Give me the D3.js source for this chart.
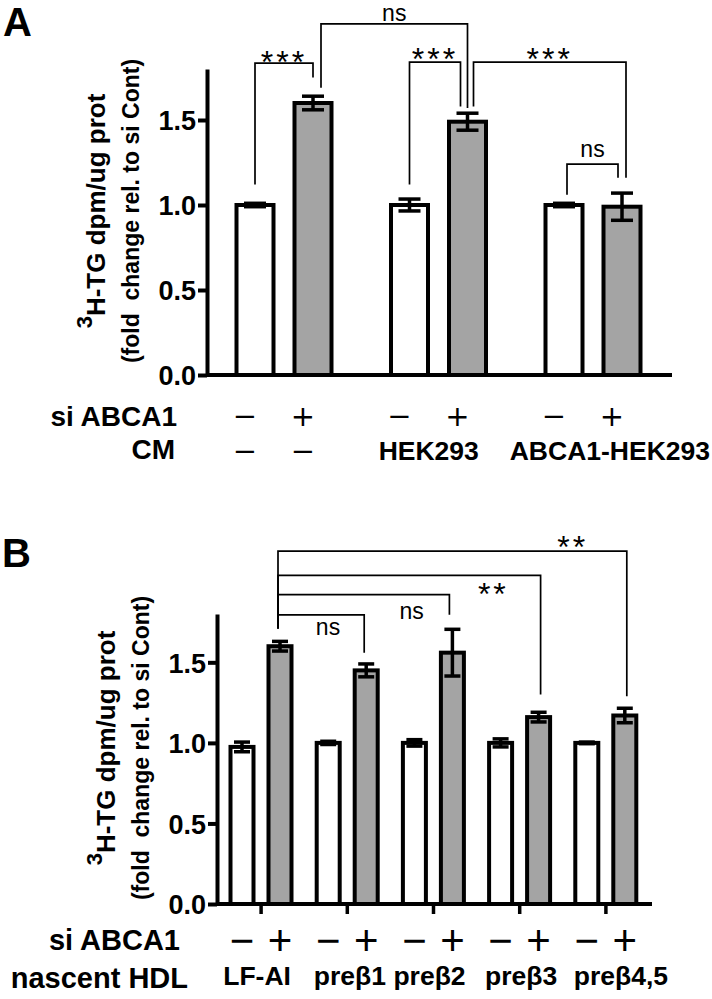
<!DOCTYPE html>
<html>
<head>
<meta charset="utf-8">
<script src="https://cdn.jsdelivr.net/npm/d3@7"></script>
<style>
  body { margin: 0; background: #fff; }
  svg text { font-family: "Liberation Sans", Arial, Helvetica, sans-serif; }
</style>
</head>
<body>
<script>
// ---- data ----
var signs = ['\u2212', '+'];

// panel A : conditioned medium
var groupsA = ['none', 'HEK293', 'ABCA1-HEK293'];
var cmRowA = [['\u2212', '\u2212'], 'HEK293', 'ABCA1-HEK293'];
var meanA = [[1.00, 1.60], [1.00, 1.49], [1.00, 0.99]];
var semA = [[0.01, 0.04], [0.035, 0.05], [0.01, 0.08]];
// bars are [group, sign]
var sigA = [
  {a: [0, 0], b: [0, 1], label: '***'},
  {a: [0, 1], b: [1, 1], label: 'ns'},
  {a: [1, 0], b: [1, 1], label: '***'},
  {a: [1, 1], b: [2, 1], label: '***'},
  {a: [2, 0], b: [2, 1], label: 'ns'}
];
// bracket heights (data units)
var sigTopA = [1.835, 2.065, 1.84, 1.84, 1.24];
var sigEndsA = [[1.12, 1.75], [1.69, 1.57], [1.12, 1.58], [1.58, 1.16], [1.06, 1.16]];
var sigTextA = [1.88, 2.12, 1.90, 1.90, 1.32];

// panel B : nascent HDL
var groupsB = ['LF-AI', 'pre\u03b21', 'pre\u03b22', 'pre\u03b23', 'pre\u03b24,5'];
var meanB = [[0.975, 1.60], [1.00, 1.45], [1.00, 1.56], [1.00, 1.16], [1.00, 1.17]];
var semB = [[0.03, 0.03], [0.01, 0.04], [0.02, 0.145], [0.025, 0.03], [0.005, 0.045]];
var sigB = [
  {a: [0, 1], b: [1, 1], label: 'ns'},
  {a: [0, 1], b: [2, 1], label: 'ns'},
  {a: [0, 1], b: [3, 1], label: '**'},
  {a: [0, 1], b: [4, 1], label: '**'}
];
var sigTopB = [1.795, 1.92, 2.04, 2.19];
var sigEndsB = [[1.71, 1.56], [1.71, 1.795], [1.71, 1.30], [1.71, 1.29]];
var sigTextB = [1.71, 1.81, 1.97, 2.26];

var yTicks = [0, 0.5, 1.0, 1.5];

// ---- drawing ----
var svg = d3.select('body').append('svg')
  .attr('width', 712)
  .attr('height', 999);

var drawPanel = function(p) {
  var g = svg.append('g');
  var y = d3.scaleLinear().domain([0, 1.8]).range([p.yBottom, p.yTop]);
  var x = d3.scaleBand().domain(d3.range(p.means.length)).range([p.xStart, p.xEnd]);
  var xi = d3.scalePoint().domain([0, 1]).range(p.inner);
  var cx = function(bar) { return x(bar[0]) + xi(bar[1]); };

  // bars
  p.means.forEach(function(pair, gi) {
    pair.forEach(function(m, si) {
      var c = cx([gi, si]);
      g.append('rect')
        .attr('x', c - p.barW / 2)
        .attr('y', y(m))
        .attr('width', p.barW)
        .attr('height', y(0) - y(m))
        .style('fill', si === 0 ? '#fff' : '#a4a4a4')
        .style('stroke', '#000')
        .style('stroke-width', 4);

      var e = p.sems[gi][si];
      var eb = g.append('g').style('stroke', '#000').style('stroke-width', 3.5);
      eb.append('line').attr('x1', c).attr('x2', c).attr('y1', y(m - e)).attr('y2', y(m + e));
      [m - e, m + e].forEach(function(v) {
        eb.append('line')
          .attr('x1', c - p.capW / 2).attr('x2', c + p.capW / 2)
          .attr('y1', y(v)).attr('y2', y(v));
      });
    });
  });

  // y axis
  var ya = g.append('g')
    .attr('transform', 'translate(' + p.xAxis + ',0)')
    .call(d3.axisLeft(y).tickValues(yTicks).tickFormat(d3.format('.1f'))
      .tickSize(9).tickSizeOuter(0).tickPadding(2));
  ya.select('.domain').style('stroke-width', 4);
  ya.selectAll('.tick line').style('stroke-width', 4);
  ya.selectAll('.tick text')
    .style('font-size', '27px').style('font-weight', 'bold')
    .style('font-family', '"Liberation Sans", Arial, sans-serif')
    .attr('dy', '0.36em');

  // x axis
  var xa = g.append('g')
    .attr('transform', 'translate(0,' + y(0) + ')')
    .call(d3.axisBottom(x).tickSize(p.xTick).tickFormat(''));
  xa.select('.domain').remove();
  xa.selectAll('.tick line').style('stroke-width', 3.5);
  g.append('line')
    .attr('x1', p.xAxis).attr('x2', p.xLineEnd)
    .attr('y1', y(0)).attr('y2', y(0))
    .style('stroke', '#000').style('stroke-width', 4);

  // significance brackets
  p.sig.forEach(function(s, i) {
    var xa0 = cx(s.a) + p.legShift[i][0];
    var xb0 = cx(s.b) + p.legShift[i][1];
    var top = y(p.sigTop[i]);
    g.append('path')
      .attr('d', 'M' + xa0 + ',' + y(p.sigEnds[i][0]) + 'V' + top + 'H' + xb0 + 'V' + y(p.sigEnds[i][1]))
      .style('fill', 'none').style('stroke', '#000').style('stroke-width', 1.7);
    var star = s.label.charAt(0) === '*';
    var fs = star ? 32 : 23;
    g.append('text')
      .attr('x', xa0 + (xb0 - xa0) * p.sigAt[i])
      .attr('y', y(p.sigText[i]) + (star ? 0.56 : 0.27) * fs)
      .attr('text-anchor', 'middle')
      .style('font-size', fs + 'px')
      .style('letter-spacing', star ? '3px' : '0px')
      .text(s.label);
  });

  // y label
  var lx = p.labelX, ly = (y(0) + y(1.8)) / 2 - 11;
  var t1 = g.append('text')
    .attr('transform', 'translate(' + lx[0] + ',' + ly + ') rotate(-90)')
    .attr('text-anchor', 'middle')
    .style('font-size', '26px').style('font-weight', 'bold');
  t1.append('tspan').attr('dy', -13).style('font-size', '22px').text('3');
  t1.append('tspan').attr('dy', 13).text('H-TG dpm/ug prot');
  g.append('text')
    .attr('transform', 'translate(' + lx[1] + ',' + ly + ') rotate(-90)')
    .attr('text-anchor', 'middle')
    .attr('xml:space', 'preserve')
    .style('white-space', 'pre')
    .style('font-size', '23px').style('font-weight', 'bold')
    .text('(fold  change rel. to si Cont)');

  // panel letter
  g.append('text')
    .attr('x', p.letterPos[0]).attr('y', p.letterPos[1])
    .style('font-size', '40px').style('font-weight', 'bold')
    .text(p.letter);

  // condition rows
  g.append('text')
    .attr('x', p.rowRight[0]).attr('y', p.rowY[0])
    .attr('text-anchor', 'end')
    .style('font-size', p.rowFont + 'px').style('font-weight', 'bold')
    .text('si ABCA1');
  g.append('text')
    .attr('x', p.rowRight[1]).attr('y', p.rowY[1])
    .attr('text-anchor', 'end')
    .style('font-size', p.rowFont + 'px').style('font-weight', 'bold')
    .text(p.rowName);

  var signText = function(sel) {
    return sel.attr('text-anchor', 'middle')
      .attr('dominant-baseline', 'central')
      .style('font-family', p.signFamily)
      .style('font-size', p.signSize + 'px');
  };

  p.means.forEach(function(pair, gi) {
    pair.forEach(function(m, si) {
      g.append('text')
        .attr('x', cx([gi, si]) + p.signShift)
        .attr('y', p.signY)
        .call(signText)
        .text(signs[si]);
    });
    var lab = p.groupRow[gi];
    var gc = x(gi) + x.bandwidth() / 2 + p.signShift + p.groupShift[gi];
    if (Array.isArray(lab)) {
      lab.forEach(function(l, si) {
        g.append('text')
          .attr('x', cx([gi, si]) + p.signShift)
          .attr('y', p.dashY)
          .call(signText)
          .text(l);
      });
    } else {
      var t = g.append('text')
        .attr('x', gc).attr('y', p.groupY)
        .attr('text-anchor', 'middle')
        .style('font-size', p.groupFont + 'px').style('font-weight', 'bold')
        .text(lab);
      var w = t.node().getComputedTextLength();
      if (gc + w / 2 > 710) { t.attr('x', 710 - w / 2); }
    }
  });
};

drawPanel({
  letter: 'A', letterPos: [3, 36],
  means: meanA, sems: semA,
  yBottom: 375, yTop: 69,
  xStart: 207, xEnd: 670.5, xAxis: 207, xLineEnd: 672, xTick: 0,
  inner: [48, 106], barW: 37, capW: 22,
  sig: sigA, sigTop: sigTopA, sigEnds: sigEndsA, sigText: sigTextA,
  sigAt: [0.5, 0.5, 0.5, 0.5, 0.5],
  legShift: [[0, 0], [8, 0], [0, -7], [6, 4], [3, -4]],
  labelX: [105, 139],
  rowRight: [177, 175], rowY: [426, 459], rowFont: 28, rowName: 'CM',
  signY: 416, dashY: 451, signShift: -10,
  signFamily: '"DejaVu Sans", sans-serif', signSize: 29,
  groupRow: cmRowA, groupY: 460, groupFont: 26.5, groupShift: [0, 0, 27]
});

drawPanel({
  letter: 'B', letterPos: [2, 567],
  means: meanB, sems: semB,
  yBottom: 904, yTop: 614,
  xStart: 218, xEnd: 649, xAxis: 217, xLineEnd: 652, xTick: 10,
  inner: [24, 62], barW: 23, capW: 16,
  sig: sigB, sigTop: sigTopB, sigEnds: sigEndsB, sigText: sigTextB,
  sigAt: [0.58, 0.78, 0.82, 0.845],
  legShift: [[-2, -2], [-2, -3], [-2, 2], [-2, 2]],
  labelX: [115, 149],
  rowRight: [180, 188], rowY: [950, 988], rowFont: 29, rowName: 'nascent HDL',
  signY: 940, dashY: 940, signShift: 0,
  signFamily: '"Liberation Sans", Arial, sans-serif', signSize: 42,
  groupRow: groupsB, groupY: 985, groupFont: 26.5, groupShift: [-4, 2.5, -4, 1.5, 15]
});
</script>
</body>
</html>
